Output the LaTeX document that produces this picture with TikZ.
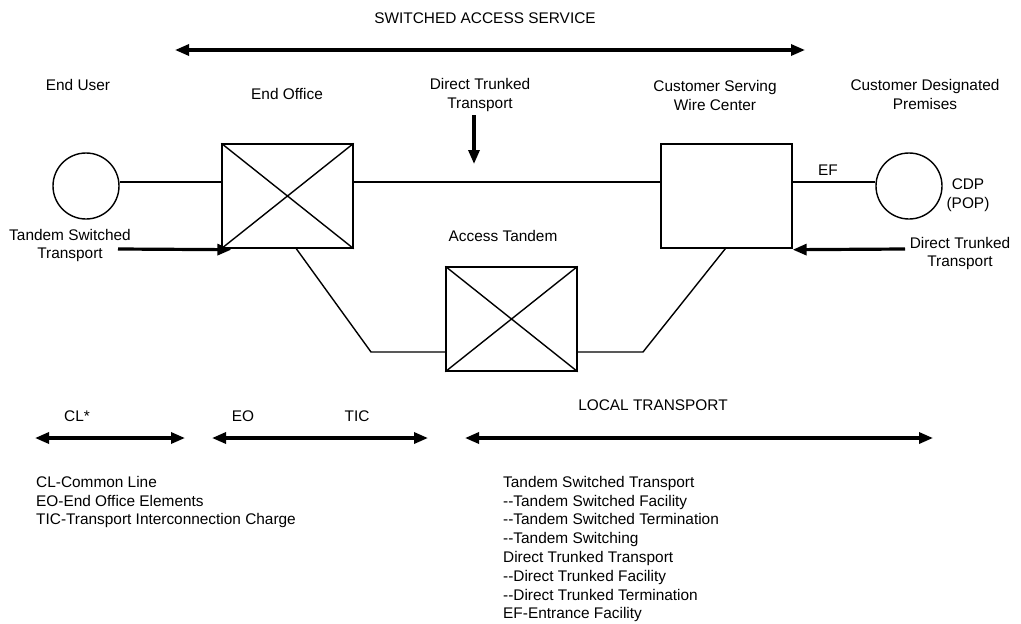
\documentclass[tikz,border=0pt]{standalone}
\usepackage{fontspec}
\setmainfont{Liberation Sans}
\usetikzlibrary{arrows.meta}
\tikzset{
  lbl/.style={inner sep=0pt, align=center, font=\fontsize{15.4}{18.8}\selectfont},
  legend/.style={inner sep=0pt, align=left, anchor=north west, font=\fontsize{15.4}{18.8}\selectfont},
  thin line/.style={line width=1.4pt},
  site/.style={draw, circle, thin line, minimum size=66pt, inner sep=0pt},
  office/.style={draw, rectangle, thin line, minimum width=131pt, minimum height=104pt, inner sep=0pt},
  span/.style={line width=3.2pt, {Triangle[length=14pt,width=11pt]}-{Triangle[length=14pt,width=11pt]}},
  pointer/.style={line width=3.2pt, -{Triangle[length=14pt,width=11pt]}}
}
\begin{document}
\begin{tikzpicture}[x=1pt,y=-1pt]
  \useasboundingbox (0,0) rectangle (1021,624);

  % reference heights for the horizontal links
  \coordinate (trunk) at (0,182);
  \coordinate (low) at (0,352);

  % sites and switching offices
  \node[site] (eu) at (86,186) {};
  \node[office] (eo) at (287.5,196) {};
  \node[office] (cswc) at (726.5,196) {};
  \node[office] (at) at (511.5,319) {};
  \node[site] (cdp) at (909,186) {};

  % crossed boxes mark switches
  \draw[thin line] (eo.north west) -- (eo.south east) (eo.south west) -- (eo.north east);
  \draw[thin line] (at.north west) -- (at.south east) (at.south west) -- (at.north east);

  % links
  \draw[thin line] (eu.east |- trunk) -- (eo.west |- trunk);
  \draw[thin line] (eo.east |- trunk) -- (cswc.west |- trunk);
  \draw[thin line] (cswc.east |- trunk) -- (cdp.west |- trunk);
  \coordinate (bendL) at (371,352);
  \coordinate (bendR) at (643,352);
  \draw[thin line] ([xshift=75pt]eo.south west) -- (bendL) -- (at.west |- low);
  \draw[thin line] (at.east |- low) -- (bendR) -- ([xshift=65pt]cswc.south west);

  % labels
  \node[lbl] (sas) at (485,18) {SWITCHED ACCESS SERVICE};
  \node[lbl] (euL) at (78,85) {End User};
  \node[lbl] (eoL) at (287,94) {End Office};
  \node[lbl] (dttTop) at (480,95) {Direct Trunked\\Transport};
  \node[lbl] (cswcL) at (715,95.5) {Customer Serving\\Wire Center};
  \node[lbl] (cdpL) at (925,94.5) {Customer Designated\\Premises};
  \node[lbl] (tstL) at (70,245.5) {Tandem Switched\\Transport};
  \node[lbl] (efL) at (828,170) {EF};
  \node[lbl] (popL) at (968,195) {CDP\\(POP)};
  \node[lbl] (dttR) at (960,253.5) {Direct Trunked\\Transport};
  \node[lbl] (atL) at (503,236) {Access Tandem};
  \node[lbl] (clL) at (77,416) {CL*};
  \node[lbl] (eoS) at (243,416) {EO};
  \node[lbl] (ticL) at (357,416) {TIC};
  \node[lbl] (ltL) at (653,405) {LOCAL TRANSPORT};

  % span arrows
  \coordinate (sasA) at (175,50);
  \coordinate (sasB) at (805,50);
  \draw[span] (sasA) -- (sasB);
  \coordinate (clA) at (35,438);
  \coordinate (clB) at (185,438);
  \draw[span] (clA) -- (clB);
  \coordinate (ticA) at (212,438);
  \coordinate (ticB) at (428,438);
  \draw[span] (ticA) -- (ticB);
  \coordinate (ltA) at (465,438);
  \coordinate (ltB) at (933,438);
  \draw[span] (ltA) -- (ltB);

  % pointer arrows
  \coordinate (dttTail) at (474,115);
  \coordinate (dttHead) at (474,164);
  \draw[pointer] (dttTail) -- (dttHead);
  \coordinate (tstTail) at (118,249);
  \draw[pointer] (tstTail) -- ([xshift=10pt,yshift=-1pt]eo.south west);
  \coordinate (dtrTail) at (905,249);
  \draw[pointer] (dtrTail) -- ([yshift=-1pt]cswc.south east);

  % legends
  \node[legend] (legL) at (36,476) {CL-Common Line\\EO-End Office Elements\\TIC-Transport Interconnection Charge};
  \node[legend] (legR) at (503,476) {Tandem Switched Transport\\-{}-Tandem Switched Facility\\-{}-Tandem Switched Termination\\-{}-Tandem Switching\\Direct Trunked Transport\\-{}-Direct Trunked Facility\\-{}-Direct Trunked Termination\\EF-Entrance Facility};
\end{tikzpicture}
\end{document}
